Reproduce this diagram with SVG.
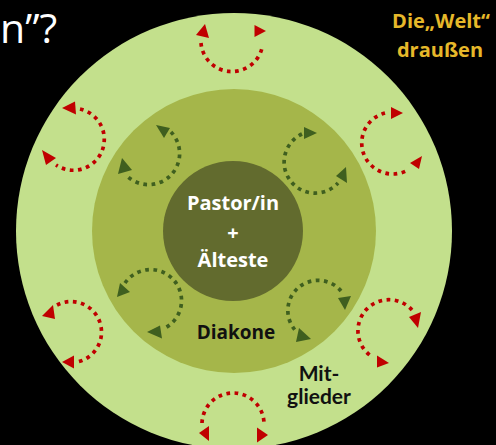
<svg xmlns="http://www.w3.org/2000/svg" width="496" height="445" viewBox="0 0 496 445">
<style>
.arc{fill:none;stroke-width:3.7;stroke-dasharray:3.7 4.5}
.red{stroke:#C00000}
.grn{stroke:#3F5F1F}
.rh{fill:#C00000}
.gh{fill:#3F5F1F}
.t{font-family:"Open Sans","Liberation Sans",sans-serif;font-weight:700;text-anchor:middle}
.g{font-family:Lato,"Liberation Sans",sans-serif;font-weight:700;text-anchor:middle;fill:#111}
</style>
<rect width="496" height="445" fill="#000"/>
<g id="title"><text x="0" y="43" font-family="'Open Sans','Liberation Sans',sans-serif" font-size="41" fill="#fff">n”?</text></g>
<g id="welt"><text class="t" x="441" y="28" font-size="20" fill="#E6B82A">Die„Welt“</text><text class="t" x="440" y="57" font-size="20" fill="#E6B82A">draußen</text></g>
<g id="mitglieder"><circle cx="234" cy="231" r="218" fill="#C3E08C"/></g>
<g id="diakone"><circle cx="234" cy="231" r="142" fill="#A5B64A"/></g>
<g id="pastor"><circle cx="233" cy="231" r="70" fill="#626B2E"/>
<text class="t" x="233" y="210" font-size="20" fill="#fff">Pastor/in</text>
<text class="t" x="233" y="240" font-size="20" fill="#fff">+</text>
<text class="t" x="233" y="267" font-size="20" fill="#fff">Älteste</text></g>
<g id="labels">
<text class="t" x="236" y="339" font-size="19" fill="#111">Diakone</text>
<text class="g" x="319" y="381" font-size="21">Mit-</text>
<text class="g" x="319" y="404" font-size="21">glieder</text>
</g>
<g id="connectors">
<path class="arc red" d="M201,43 A31,31 0 0 0 262,48"/>
<polygon class="rh" points="205,24 196,35 209,38"/>
<polygon class="rh" points="266,31 254.5,25 254.5,37"/>
<path class="arc red" d="M80,109 A31,31 0 1 1 56,165"/>
<polygon class="rh" points="62,108 75,101.5 76,114.5"/>
<polygon class="rh" points="42,150 56,158 46,165"/>
<path class="arc red" d="M385,113 A31,31 0 1 0 408,170"/>
<polygon class="rh" points="403,113 391,107 391,119"/>
<polygon class="rh" points="422,156 410,163 419,169"/>
<path class="arc red" d="M412,310 A31,31 0 1 0 371,356"/>
<polygon class="rh" points="418,328 409,317 421,312"/>
<polygon class="rh" points="389,363 377,355.5 377,367.5"/>
<path class="arc red" d="M202,423 A31,31 0 1 1 264,425"/>
<polygon class="rh" points="199,433 209,426 209,441"/>
<polygon class="rh" points="268,435 257,427.5 257,442.5"/>
<path class="arc red" d="M57,305 A30.5,30.5 0 1 1 77,362"/>
<polygon class="rh" points="42,316 53,305 55,319"/>
<polygon class="rh" points="62,362 74,355.5 74,368.5"/>
<path class="arc grn" d="M171,132 A31,31 0 1 1 126,175"/>
<polygon class="gh" points="156,125 170,128 164,138"/>
<polygon class="gh" points="122,158 118,174 132,170"/>
<path class="arc grn" d="M302,134 A31,31 0 1 0 338,183"/>
<polygon class="gh" points="317,133 304,127 304,139"/>
<polygon class="gh" points="336,176 346,167 347,183"/>
<path class="arc grn" d="M125,283 A31,31 0 1 1 165,328"/>
<polygon class="gh" points="117,297 120,283 130,292"/>
<polygon class="gh" points="147,332 160,325.5 162,338.5"/>
<path class="arc grn" d="M341,291 A30,30 0 1 0 295,330"/>
<polygon class="gh" points="345,310 338,298 351,296"/>
<polygon class="gh" points="311,339 299,328 296,342"/>
</g>
</svg>
